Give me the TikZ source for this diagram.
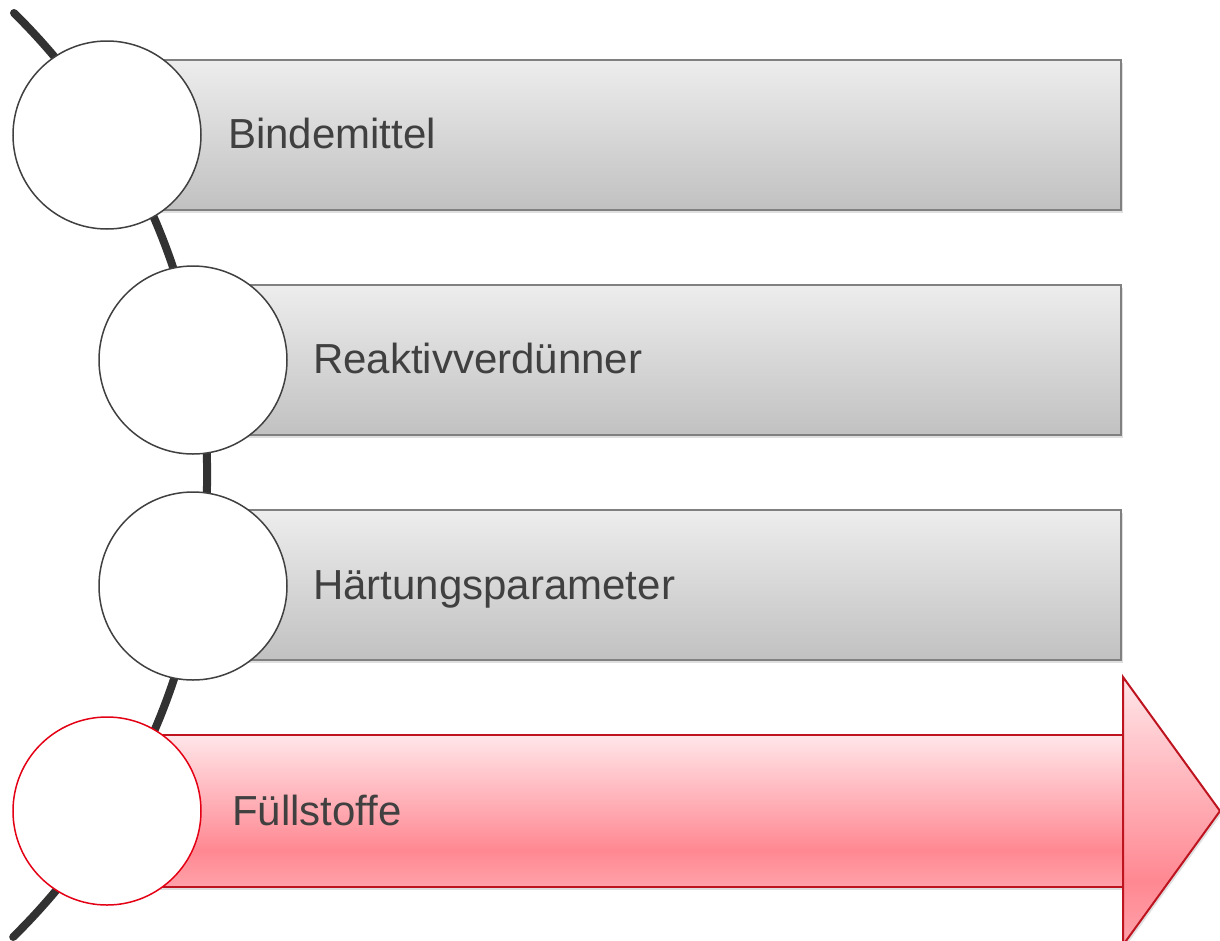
\documentclass[tikz,border=0pt]{standalone}
\usepackage{fontspec}
\setmainfont{Liberation Sans}
\usetikzlibrary{shadows}

\definecolor{spinegray}{RGB}{50,50,50}
\definecolor{ringgray}{RGB}{64,64,64}
\definecolor{textgray}{RGB}{64,64,64}
\definecolor{barborder}{RGB}{128,128,128}
\definecolor{bartop}{RGB}{237,237,237}
\definecolor{barbottom}{RGB}{193,193,193}
\definecolor{redborder}{RGB}{190,20,32}
\definecolor{redring}{RGB}{228,0,20}
\definecolor{redtop}{RGB}{255,230,233}
\definecolor{redmid}{RGB}{255,136,146}
\definecolor{redlow}{RGB}{255,162,170}

% pink bar: light at the top, deepest about three quarters down
\pgfdeclareverticalshading{pinkbar}{100bp}{%
  color(0bp)=(redlow); color(25bp)=(redlow); color(37bp)=(redmid);
  color(75bp)=(redtop); color(100bp)=(redtop)}

\tikzset{
  spine/.style={draw=spinegray, line width=8pt, line cap=round},
  bar/.style={rectangle, draw=barborder, line width=1.5pt,
    top color=bartop, bottom color=barbottom, minimum height=150pt,
    inner sep=0pt,
    drop shadow={shadow xshift=1.5pt, shadow yshift=-3pt, opacity=0.25}},
  redbar/.style={rectangle, draw=redborder, line width=2pt,
    shading=pinkbar, minimum height=152pt, inner sep=0pt,
    drop shadow={shadow xshift=1.5pt, shadow yshift=-3pt, opacity=0.25}},
  ring/.style={circle, draw=ringgray, line width=1.5pt, fill=white,
    minimum size=188pt, inner sep=0pt},
  redringstyle/.style={ring, draw=redring},
  lbl/.style={anchor=base west, inner sep=0pt, text=textgray,
    font=\fontsize{42}{50}\selectfont},
}

\begin{document}
\begin{tikzpicture}[x=1pt, y=-1pt]
\useasboundingbox (0,0) rectangle (1220,940);

% curved spine behind the rings
\coordinate (spinetop) at (14,13);
\draw[spine] (spinetop) arc[start angle=-45.4, end angle=45.5, radius=648.3];

% grey bars
\node[bar, minimum width=966pt] (b1) at (638,135) {};
\node[bar, minimum width=881pt] (b2) at (680.5,360) {};
\node[bar, minimum width=881pt] (b3) at (680.5,585) {};

% highlighted arrow: body and head
\node[redbar, minimum width=968pt] (b4) at (639,811) {};
\path[draw=redborder, line width=2pt, line join=miter, shading=pinkbar,
  drop shadow={shadow xshift=1.5pt, shadow yshift=-3pt, opacity=0.25}]
  (1123,677) -- (1220,811) -- (1123,945) -- cycle;

% rings
\node[ring] (c1) at (107,135) {};
\node[ring] (c2) at (193,360) {};
\node[ring] (c3) at (193,586) {};
\node[redringstyle] (c4) at (107,811) {};

% labels
\node[lbl] (l1) at (228,148) {Bindemittel};
\node[lbl] (l2) at (313,373) {Reaktivverdünner};
\node[lbl] (l3) at (313,599) {Härtungsparameter};
\node[lbl] (l4) at (232,825) {Füllstoffe};
\end{tikzpicture}
\end{document}
